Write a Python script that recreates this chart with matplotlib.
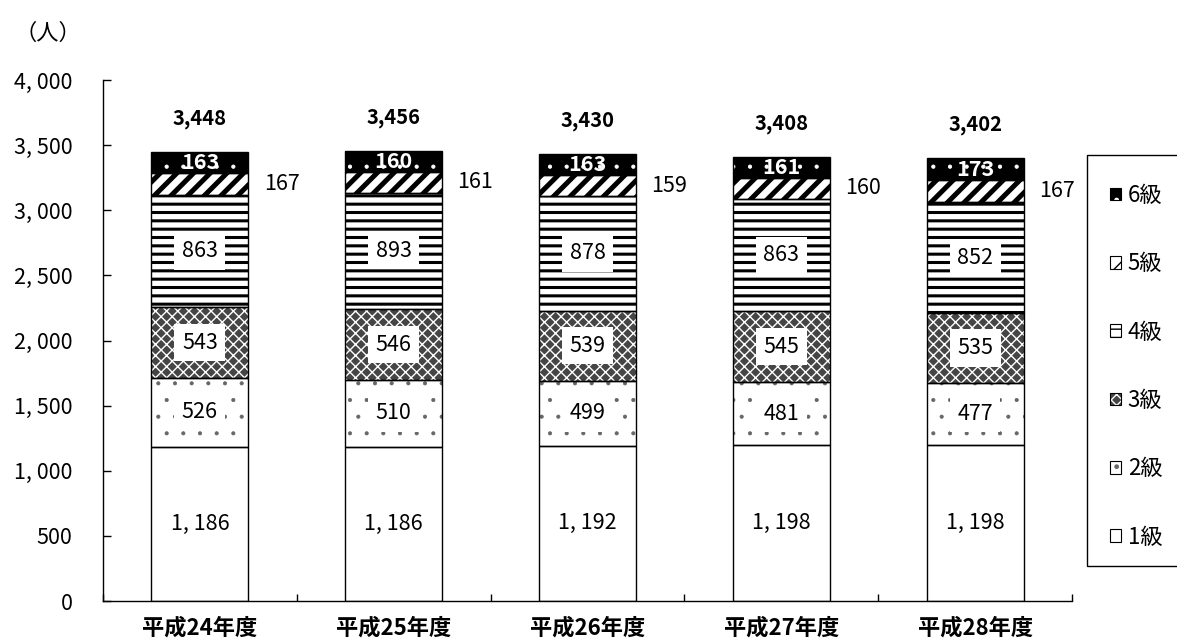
import matplotlib
matplotlib.use("Agg")
import matplotlib.pyplot as plt
from matplotlib.patches import Rectangle
from matplotlib.legend_handler import HandlerTuple
from matplotlib.ticker import FixedLocator

plt.rcParams['font.family'] = ['Noto Sans CJK JP', 'DejaVu Sans']

# ---- data ----
years = ['平成24年度', '平成25年度', '平成26年度', '平成27年度', '平成28年度']
grades = ['1級', '2級', '3級', '4級', '5級', '6級']
grade1 = [1186, 1186, 1192, 1198, 1198]
grade2 = [526, 510, 499, 481, 477]
grade3 = [543, 546, 539, 545, 535]
grade4 = [863, 893, 878, 863, 852]
grade5 = [167, 161, 159, 160, 167]
grade6 = [163, 160, 163, 161, 173]
series = [grade1, grade2, grade3, grade4, grade5, grade6]
totals = [3448, 3456, 3430, 3408, 3402]
yticks = [0, 500, 1000, 1500, 2000, 2500, 3000, 3500, 4000]
ytick_labels = ['0', '500', '1, 000', '1, 500', '2, 000', '2, 500',
                '3, 000', '3, 500', '4, 000']

# fill style per grade: face colour, hatch, hatch colour, hatch width
styles = [
    dict(face='white', hatch=None, hcol='black', hlw=1.0),
    dict(face='white', hatch='.', hcol='#666666', hlw=0.5),
    dict(face='#454545', hatch='xxx', hcol='white', hlw=1.0),
    dict(face='white', hatch='--', hcol='black', hlw=2.2),
    dict(face='white', hatch='//', hcol='black', hlw=3.6),
    dict(face='black', hatch='.', hcol='white', hlw=0.6),
]

W, H = 1177, 641
fig = plt.figure(figsize=(W / 100, H / 100), dpi=100)
ax = fig.add_axes([103 / W, 1 - 601 / H, (1072 - 103) / W, (601 - 80) / H])

x = list(range(len(years)))
bar_w = 0.5
bottoms = [0] * len(years)
handles = []
for vals, st in zip(series, styles):
    with plt.rc_context({'hatch.linewidth': st['hlw']}):
        fill = ax.bar(x, vals, bar_w, bottom=bottoms, color=st['face'],
                      edgecolor=st['hcol'], linewidth=0, hatch=st['hatch'],
                      zorder=2)
        for p in fill:
            if hasattr(p, 'set_hatch_linewidth'):
                p.set_hatch_linewidth(st['hlw'])
    ax.bar(x, vals, bar_w, bottom=bottoms, fill=False,
           edgecolor='black', linewidth=1.0, zorder=3)
    # legend proxies: hatched fill plus black outline
    lw_leg = st['hlw'] * 0.5
    with plt.rc_context({'hatch.linewidth': lw_leg}):
        pf = Rectangle((0, 0), 1, 1, facecolor=st['face'],
                       edgecolor=st['hcol'], linewidth=0, hatch=st['hatch'])
        if hasattr(pf, 'set_hatch_linewidth'):
            pf.set_hatch_linewidth(lw_leg)
    po = Rectangle((0, 0), 1, 1, fill=False, edgecolor='black', linewidth=0.8)
    handles.append((pf, po))
    bottoms = [b + v for b, v in zip(bottoms, vals)]

# ---- value labels ----
fs = 15.5
cum = [0] * len(years)
for gi, vals in enumerate(series):
    for i, v in enumerate(vals):
        mid = cum[i] + v / 2
        if gi == 0:
            ax.text(i, mid, f'{v // 1000}, {v % 1000:03d}', ha='center',
                    va='center', fontsize=fs, zorder=5)
        elif gi in (1, 2, 3):
            ax.text(i, mid, str(v), ha='center', va='center', fontsize=fs,
                    zorder=5,
                    bbox=dict(boxstyle='square,pad=0.35', facecolor='white',
                              edgecolor='none'))
        elif gi == 4:
            ax.annotate(str(v), xy=(i + bar_w / 2, mid), xytext=(11, 0),
                        textcoords='offset points', ha='left', va='center',
                        fontsize=fs, zorder=5)
        else:
            ax.text(i, mid, str(v), ha='center', va='center', fontsize=fs,
                    fontweight='bold', color='white', zorder=5)
        cum[i] += v

for i, t in enumerate(totals):
    ax.annotate(f'{t:,}', xy=(i, t), xytext=(0, 24),
                textcoords='offset points', ha='center', va='center',
                fontsize=14.5, fontweight='bold')

# ---- axes ----
ax.set_xlim(-0.5, len(years) - 0.5)
ax.set_ylim(0, 4000)
ax.set_yticks(yticks)
ax.set_yticklabels(ytick_labels, fontsize=15.5)
ax.tick_params(axis='y', direction='in', length=6, width=1, pad=22)
ax.set_xticks(x)
ax.set_xticklabels(years, fontsize=16, fontweight='bold')
ax.tick_params(axis='x', which='major', length=0, pad=11)
ax.xaxis.set_minor_locator(FixedLocator([k - 0.5 for k in range(len(years) + 1)]))
ax.tick_params(axis='x', which='minor', direction='in', length=5, width=1)
for s in ('top', 'right'):
    ax.spines[s].set_visible(False)
for s in ('left', 'bottom'):
    ax.spines[s].set_linewidth(1.0)

fig.text(15 / W, 1 - 33 / H, '（人）', fontsize=16, ha='left', va='center')

# ---- legend ----
leg = fig.legend(handles[::-1], grades[::-1],
                 handler_map={tuple: HandlerTuple(ndivide=1, pad=0)},
                 loc='upper left', bbox_to_anchor=(1110 / W, 1 - 184 / H),
                 frameon=False, fontsize=16, handlelength=0.5,
                 handleheight=0.5, handletextpad=0.3, labelspacing=2.04,
                 borderpad=0, borderaxespad=0)
fig.add_artist(Rectangle((1087 / W, 1 - 566 / H), 120 / W, (566 - 155) / H,
                         transform=fig.transFigure, fill=False,
                         edgecolor='black', linewidth=1.0, clip_on=False))

fig.savefig('out.png', dpi=100)
